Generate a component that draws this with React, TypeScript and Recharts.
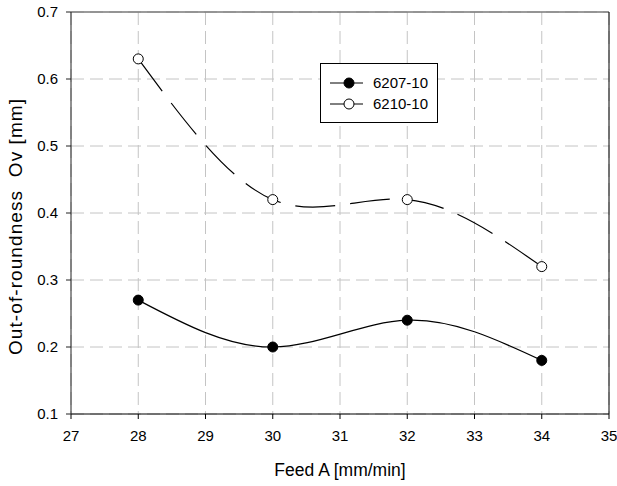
import React from 'react';
import { LineChart, Line, XAxis, YAxis, CartesianGrid, ReferenceLine } from 'recharts';

const feed = [28, 30, 32, 34];
const s6207 = [0.27, 0.2, 0.24, 0.18];
const s6210 = [0.63, 0.42, 0.42, 0.32];
const xTicks = [27, 28, 29, 30, 31, 32, 33, 34, 35];
const yTicks = [0.1, 0.2, 0.3, 0.4, 0.5, 0.6, 0.7];
const seriesNames = ['6207-10', '6210-10'];

const data = feed.map((f, i) => ({ feed: f, a: s6207[i], b: s6210[i] }));

const FONT = '"Liberation Sans", Arial, Helvetica, sans-serif';

const LegendBox = () => (
  <div
    style={{
      position: 'absolute',
      left: 320,
      top: 63,
      width: 116,
      height: 58,
      border: '1px solid #000',
      background: '#fff',
      fontFamily: FONT,
      fontSize: 15,
      color: '#000',
    }}
  >
    {seriesNames.map((name, i) => (
      <div
        key={name}
        style={{ position: 'absolute', left: 0, top: i === 0 ? 10 : 31, height: 18, display: 'flex', alignItems: 'center' }}
      >
        <svg width={52} height={18} style={{ display: 'block' }}>
          <line x1={9} y1={9} x2={42} y2={9} stroke="#000" strokeWidth={1} />
          <circle cx={28} cy={9} r={5} fill={i === 0 ? '#000' : '#fff'} stroke="#000" strokeWidth={1} />
        </svg>
        <span style={{ lineHeight: '18px' }}>{name}</span>
      </div>
    ))}
  </div>
);

export default function App() {
  return (
    <div style={{ position: 'absolute', left: 0, top: 0, width: 617, height: 486, fontFamily: FONT, overflow: 'hidden' }}>
      <LineChart
        width={617}
        height={486}
        data={data}
        margin={{ top: 12, right: 8, bottom: 42, left: 8 }}
      >
        <CartesianGrid stroke="#c4c4c4" strokeDasharray="13 6" />
        <XAxis
          dataKey="feed"
          type="number"
          domain={[27, 35]}
          ticks={xTicks}
          interval={0}
          height={30}
          tickSize={5}
          tickMargin={11}
          stroke="#000"
          tick={{ fill: '#000', fontSize: 15, fontFamily: FONT }}
          label={(props: any) => {
            const vb = props.viewBox;
            return (
              <text x={vb.x + vb.width / 2} y={476} textAnchor="middle" fontSize={17.5} fontFamily={FONT} fill="#000">
                Feed A [mm/min]
              </text>
            );
          }}
        />
        <YAxis
          type="number"
          domain={[0.1, 0.7]}
          ticks={yTicks}
          interval={0}
          width={63}
          tickSize={5}
          tickMargin={8}
          stroke="#222"
          tickFormatter={(v: number) => v.toFixed(1)}
          tick={{ fill: '#000', fontSize: 15, fontFamily: FONT }}
          label={() => (
            <text
              x={15}
              y={227}
              transform="rotate(-90 15 227)"
              textAnchor="middle"
              dominantBaseline="central"
              fontSize={19}
              fontFamily={FONT}
              fill="#000"
              textLength={256}
              lengthAdjust="spacing"
            >
              {'Out-of-roundness\u00a0\u00a0Ov [mm]'}
            </text>
          )}
        />
        <ReferenceLine y={0.7} stroke="#7a7a7a" strokeWidth={1.5} />
        <ReferenceLine x={35} stroke="#000" strokeWidth={1} />
        <Line
          type="natural"
          dataKey="a"
          name={seriesNames[0]}
          stroke="#000"
          strokeWidth={1.2}
          dot={{ r: 5, fill: '#000', stroke: '#000', strokeWidth: 1 }}
          activeDot={false}
          isAnimationActive={false}
        />
        <Line
          type="natural"
          dataKey="b"
          name={seriesNames[1]}
          stroke="#000"
          strokeWidth={1.2}
          strokeDasharray="40 15"
          dot={{ r: 5, fill: '#fff', stroke: '#000', strokeWidth: 1, strokeDasharray: '' }}
          activeDot={false}
          isAnimationActive={false}
        />
      </LineChart>
      <LegendBox />
    </div>
  );
}
